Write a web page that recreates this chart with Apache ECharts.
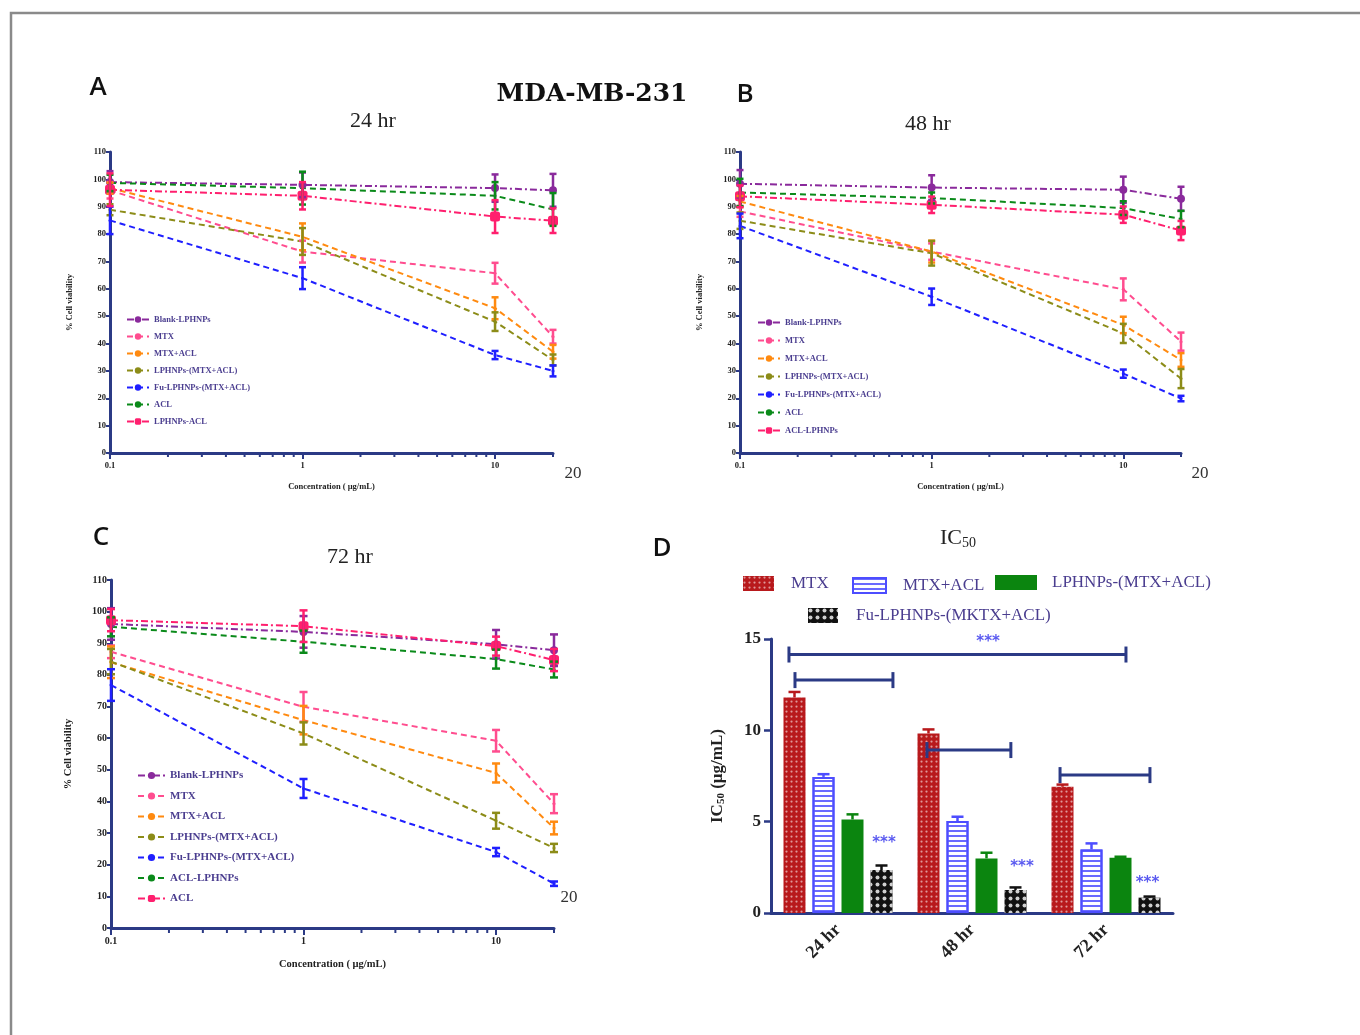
<!DOCTYPE html>
<html><head><meta charset="utf-8">
<script src="https://cdn.jsdelivr.net/npm/echarts@6/dist/echarts.min.js"></script>
<style>
html,body{margin:0;padding:0;background:#fff;}
.p{position:absolute;left:0;top:0;width:1360px;height:1035px;}
</style></head><body>
<div id="pa" class="p"></div><div id="pb" class="p"></div><div id="pc" class="p"></div><div id="pd" class="p"></div>
<script>
// ---------- DATA ----------
const conc = [0.1, 1, 10, 20];
const minorTicks = [0.2,0.3,0.4,0.5,0.6,0.7,0.8,0.9,2,3,4,5,6,7,8,9,20];

const namesA = ['Blank-LPHNPs','MTX','MTX+ACL','LPHNPs-(MTX+ACL)','Fu-LPHNPs-(MTX+ACL)','ACL','LPHNPs-ACL'];
const valsA = [
  [99, 98, 96.8, 96],
  [96, 73.6, 65.7, 42.5],
  [96.8, 79, 52.9, 37],
  [88.9, 77.3, 48, 34],
  [85, 63.9, 35.8, 30],
  [98.7, 96.8, 94, 89],
  [96.2, 94, 86.4, 84.9]
];
const errA = [
  [4, 4.5, 5, 6],
  [3, 4, 3.8, 2.5],
  [2, 4.9, 4, 2.5],
  [2, 4.9, 3.4, 2],
  [5, 4, 1.5, 2],
  [3, 6, 5, 6],
  [6, 5, 6, 4.5]
];

const namesB = ['Blank-LPHNPs','MTX','MTX+ACL','LPHNPs-(MTX+ACL)','Fu-LPHNPs-(MTX+ACL)','ACL','ACL-LPHNPs'];
const valsB = [
  [98.4, 97, 96.2, 92.9],
  [88.3, 73.6, 59.8, 40.7],
  [91.9, 73.6, 46.8, 34],
  [84.9, 73, 43.7, 27.2],
  [83, 57.1, 29, 19.9],
  [95.2, 93.2, 89.5, 85.5],
  [93.8, 90.7, 87.1, 81.3]
];
const errB = [
  [5, 4.5, 4.8, 4.4],
  [2, 3, 4, 3.3],
  [2, 4, 3, 2.5],
  [3, 4.5, 3.5, 3.5],
  [4.5, 3, 1.5, 1],
  [5, 2, 2.5, 3],
  [4, 3, 3, 3.5]
];

const namesC = ['Blank-LPHNPs','MTX','MTX+ACL','LPHNPs-(MTX+ACL)','Fu-LPHNPs-(MTX+ACL)','ACL-LPHNPs','ACL'];
const valsC = [
  [96.1, 93.6, 89.7, 87.8],
  [87.3, 69.9, 59.2, 39.3],
  [84, 65.7, 49, 31.6],
  [84.2, 61.5, 33.9, 25.3],
  [76.8, 44.1, 24, 14],
  [95.2, 90.5, 85, 81.7],
  [97.3, 95.4, 89.1, 84.7]
];
const errC = [
  [5, 5, 4.5, 5],
  [2, 4.7, 3.4, 3],
  [5, 4.5, 3, 2],
  [4, 3.5, 2.5, 1.3],
  [5, 3, 1.3, 0.7],
  [3, 3.5, 3, 2.5],
  [3.5, 5, 3, 3.5]
];

const times = ['24 hr', '48 hr', '72 hr'];
const barNames = ['MTX', 'MTX+ACL', 'LPHNPs-(MTX+ACL)', 'Fu-LPHNPs-(MKTX+ACL)'];
const icMTX = [11.8, 9.83, 6.91];
const icMTXACL = [7.45, 5.03, 3.48];
const icLPHNP = [5.12, 2.99, 3.03];
const icFu = [2.35, 1.26, 0.84];
const icErrMTX = [0.3, 0.22, 0.12];
const icErrMTXACL = [0.15, 0.24, 0.33];
const icErrLPHNP = [0.28, 0.31, 0.05];
const icErrFu = [0.25, 0.14, 0.06];
// significance brackets: [x start, x end, height] on a 0..3 group scale
const brackets = [[0.134, 2.649, 14.15], [0.179, 0.91, 12.75], [1.164, 1.79, 8.92], [2.157, 2.828, 7.55]];
const stars = [[1.62, 14.85], [0.843, 3.83], [1.873, 2.52], [2.81, 1.64]];

// ---------- STYLE ----------
const SERIF = '"Liberation Serif","DejaVu Serif",serif';
const NAVY = '#2b3a85';
const LEG_TXT = '#4a3d8f';
const C_PURPLE = '#8a2a9c', C_PINK = '#ff4d8f', C_ORANGE = '#ff8a10', C_OLIVE = '#8c8c18',
      C_BLUE = '#1f1fff', C_GREEN = '#0a8a1a', C_MAG = '#ff1f6e';

function lineStyles(order) {
  const s = {
    blank: {color: C_PURPLE, symbol: 'circle', size: 8, dash: [7, 3, 2, 3]},
    mtx: {color: C_PINK, symbol: 'circle', size: 3, dash: [6, 4]},
    mtxacl: {color: C_ORANGE, symbol: 'circle', size: 3, dash: [6, 4]},
    olive: {color: C_OLIVE, symbol: 'circle', size: 3, dash: [6, 4]},
    fu: {color: C_BLUE, symbol: 'circle', size: 3, dash: [6, 4]},
    green: {color: C_GREEN, symbol: 'circle', size: 3, dash: [6, 4]},
    mag: {color: C_MAG, symbol: 'roundRect', size: 10, dash: [7, 3, 2, 3]}
  };
  return order.map(k => s[k]);
}

function linePanel(id, cfg) {
  const chart = echarts.init(document.getElementById(id));
  const series = [];
  cfg.names.forEach((n, i) => {
    const st = cfg.styles[i];
    series.push({
      type: 'line', name: n, z: 3,
      data: conc.map((x, j) => [x, cfg.values[i][j]]),
      symbol: st.symbol, symbolSize: st.size,
      itemStyle: {color: st.color},
      lineStyle: {color: st.color, width: 2, type: st.dash},
      emphasis: {disabled: true}
    });
    series.push({
      type: 'custom', name: n + ' error', z: 4,
      data: conc.map((x, j) => [x, cfg.values[i][j] - cfg.errors[i][j], cfg.values[i][j] + cfg.errors[i][j]]),
      encode: {x: 0, y: [1, 2]},
      renderItem: (params, api) => {
        const a = api.coord([api.value(0), api.value(2)]);
        const b = api.coord([api.value(0), api.value(1)]);
        const w = cfg.cap, sty = {stroke: st.color, lineWidth: 2.5};
        return {type: 'group', children: [
          {type: 'line', shape: {x1: a[0], y1: a[1], x2: b[0], y2: b[1]}, style: sty},
          {type: 'line', shape: {x1: a[0] - w, y1: a[1], x2: a[0] + w, y2: a[1]}, style: sty},
          {type: 'line', shape: {x1: b[0] - w, y1: b[1], x2: b[0] + w, y2: b[1]}, style: sty}
        ]};
      }
    });
  });
  series.push({
    type: 'custom', name: 'minor ticks', silent: true, z: 5,
    data: minorTicks.map(v => [v, 0]),
    renderItem: (params, api) => {
      const p = api.coord([api.value(0), 0]);
      return {type: 'line', shape: {x1: p[0], y1: p[1], x2: p[0], y2: p[1] + cfg.minorLen},
              style: {stroke: NAVY, lineWidth: 2}};
    }
  });
  const axisFont = {fontSize: cfg.axisFont, fontWeight: 'bold', fontFamily: SERIF, color: '#222'};
  const graphics = [
    {type: 'text', x: cfg.title[1], y: cfg.title[2], style: {text: cfg.title[0], font: '22px ' + SERIF, fill: '#222', align: 'center', verticalAlign: 'middle', textAlign: 'center', textVerticalAlign: 'middle'}},
    {type: 'text', x: cfg.letter[1], y: cfg.letter[2], style: {text: cfg.letter[0], font: '600 26px "Open Sans",sans-serif', fill: '#111', align: 'center', verticalAlign: 'middle', textAlign: 'center', textVerticalAlign: 'middle'}},
    {type: 'text', x: cfg.twenty[0], y: cfg.twenty[1], style: {text: '20', font: '17px ' + SERIF, fill: '#333', align: 'center', verticalAlign: 'middle', textAlign: 'center', textVerticalAlign: 'middle'}}
  ].concat(cfg.extraGraphics || []);
  chart.setOption({
    animation: false,
    grid: cfg.grid,
    xAxis: {
      type: 'log', logBase: 10, min: 0.1, max: 20,
      name: 'Concentration ( µg/mL)', nameLocation: 'middle', nameGap: cfg.xNameGap,
      nameTextStyle: {fontSize: cfg.nameFont, fontWeight: 'bold', fontFamily: SERIF, color: '#222'},
      axisLine: {lineStyle: {color: NAVY, width: 3}},
      axisTick: {show: true, length: cfg.majorLen, lineStyle: {color: NAVY, width: 2}},
      minorTick: {show: false},
      axisLabel: Object.assign({margin: 8, showMaxLabel: false, formatter: v => (v > 15 ? '' : String(+v.toPrecision(3)))}, axisFont),
      splitLine: {show: false}
    },
    yAxis: {
      type: 'value', min: 0, max: 110, interval: 10,
      name: '% Cell viability', nameLocation: 'middle', nameGap: cfg.yNameGap,
      nameTextStyle: {fontSize: cfg.nameFont, fontWeight: 'bold', fontFamily: SERIF, color: '#222'},
      axisLine: {show: true, lineStyle: {color: NAVY, width: 3}},
      axisTick: {show: true, length: 4, lineStyle: {color: NAVY, width: 2}},
      axisLabel: Object.assign({margin: 4}, axisFont),
      splitLine: {show: false}
    },
    legend: {
      data: cfg.names, orient: 'vertical', left: cfg.legend.left, top: cfg.legend.top,
      itemGap: cfg.legend.gap, itemWidth: cfg.legend.w, itemHeight: cfg.legend.h,
      textStyle: {fontSize: cfg.legend.font, fontFamily: SERIF, fontWeight: 'bold', color: LEG_TXT}
    },
    graphic: graphics,
    series: series
  });
}

linePanel('pa', {
  names: namesA, values: valsA, errors: errA,
  styles: lineStyles(['blank', 'mtx', 'mtxacl', 'olive', 'fu', 'green', 'mag']),
  grid: {left: 110, top: 152, width: 443, height: 301},
  legend: {left: 121, top: 310, gap: 8, w: 22, h: 8, font: 8.5},
  axisFont: 8.5, nameFont: 8.5, cap: 3.5, xNameGap: 29, yNameGap: 36, majorLen: 6, minorLen: 4,
  title: ['24 hr', 373, 121], letter: ['A', 98, 88], twenty: [573, 474],
  extraGraphics: [
    {type: 'text', x: 592, y: 94, style: {text: 'MDA-MB-231', font: 'bold 25px "DejaVu Serif",serif', fill: '#111', align: 'center', verticalAlign: 'middle', textAlign: 'center', textVerticalAlign: 'middle'}},
    {type: 'polyline', shape: {points: [[11, 1040], [11, 13], [1370, 13]]}, style: {stroke: '#8a8a8a', lineWidth: 2.5, fill: null}}
  ]
});
linePanel('pb', {
  names: namesB, values: valsB, errors: errB,
  styles: lineStyles(['blank', 'mtx', 'mtxacl', 'olive', 'fu', 'green', 'mag']),
  grid: {left: 740, top: 152, width: 441, height: 301},
  legend: {left: 752, top: 313, gap: 9, w: 22, h: 8, font: 8.5},
  axisFont: 8.5, nameFont: 8.5, cap: 3.5, xNameGap: 29, yNameGap: 36, majorLen: 6, minorLen: 4,
  title: ['48 hr', 928, 124], letter: ['B', 745, 95], twenty: [1200, 474]
});
linePanel('pc', {
  names: namesC, values: valsC, errors: errC,
  styles: lineStyles(['blank', 'mtx', 'mtxacl', 'olive', 'fu', 'green', 'mag']),
  grid: {left: 111, top: 580, width: 443, height: 348},
  legend: {left: 132, top: 765, gap: 9.5, w: 27, h: 9, font: 11},
  axisFont: 10, nameFont: 10.5, cap: 4, xNameGap: 31, yNameGap: 37, majorLen: 7, minorLen: 5,
  title: ['72 hr', 350, 557], letter: ['C', 101, 538], twenty: [569, 898]
});

// ---------- PANEL D ----------
(function () {
  const chart = echarts.init(document.getElementById('pd'));
  const BW = 22, GAP = 7;
  const barDefs = [
    {name: barNames[0], data: icMTX, err: icErrMTX, color: '#b8191c', itemStyle: {color: '#b8191c', decal: {symbol: 'circle', symbolSize: 0.75, color: 'rgba(255,255,255,0.55)', dashArrayX: [3, 2], dashArrayY: [3, 2]}}},
    {name: barNames[1], data: icMTXACL, err: icErrMTXACL, color: '#4d4dff', itemStyle: {color: '#ffffff', borderColor: '#4d4dff', borderWidth: 2, decal: {symbol: 'rect', symbolSize: 1, color: '#6a6aff', dashArrayX: [1, 0], dashArrayY: [2, 3]}}},
    {name: barNames[2], data: icLPHNP, err: icErrLPHNP, color: '#0b850f', itemStyle: {color: '#0b850f'}},
    {name: barNames[3], data: icFu, err: icErrFu, color: '#111111', itemStyle: {color: '#111111', decal: {symbol: 'circle', symbolSize: 0.8, color: 'rgba(255,255,255,0.8)', dashArrayX: [5, 2], dashArrayY: [5, 2]}}}
  ];
  const series = [];
  barDefs.forEach((b, i) => {
    series.push({type: 'bar', name: b.name, data: b.data, barWidth: BW, barGap: (GAP / BW * 100) + '%', itemStyle: b.itemStyle, z: 2});
    series.push({
      type: 'custom', name: b.name + ' error', z: 3,
      data: b.data.map((v, j) => [j, v, v + b.err[j]]),
      encode: {x: 0, y: [1, 2]},
      renderItem: (params, api) => {
        const t = api.coord([api.value(0), api.value(2)]);
        const base = api.coord([api.value(0), api.value(1)]);
        const x = t[0] + (i - 1.5) * (BW + GAP);
        const sty = {stroke: b.color, lineWidth: 2.5};
        return {type: 'group', children: [
          {type: 'line', shape: {x1: x, y1: base[1], x2: x, y2: t[1]}, style: sty},
          {type: 'line', shape: {x1: x - 6, y1: t[1], x2: x + 6, y2: t[1]}, style: sty}
        ]};
      }
    });
  });
  series.push({
    type: 'custom', name: 'brackets', xAxisIndex: 1, z: 6, silent: true,
    data: brackets, encode: {x: [0, 1], y: 2},
    renderItem: (params, api) => {
      const a = api.coord([api.value(0), api.value(2)]);
      const b = api.coord([api.value(1), api.value(2)]);
      const sty = {stroke: NAVY, lineWidth: 3};
      return {type: 'group', children: [
        {type: 'line', shape: {x1: a[0], y1: a[1], x2: b[0], y2: b[1]}, style: sty},
        {type: 'line', shape: {x1: a[0], y1: a[1] - 8, x2: a[0], y2: a[1] + 8}, style: sty},
        {type: 'line', shape: {x1: b[0], y1: b[1] - 8, x2: b[0], y2: b[1] + 8}, style: sty}
      ]};
    }
  });
  series.push({
    type: 'custom', name: 'stars', xAxisIndex: 1, z: 6, silent: true,
    data: stars, encode: {x: 0, y: 1},
    renderItem: (params, api) => {
      const p = api.coord([api.value(0), api.value(1)]);
      return {type: 'text', x: p[0], y: p[1], style: {text: '***', font: 'bold 15px "DejaVu Sans",sans-serif', fill: '#5a5af0', align: 'center', verticalAlign: 'middle', textAlign: 'center', textVerticalAlign: 'middle'}};
    }
  });
  const legTxt = {fontSize: 17, fontFamily: SERIF, color: LEG_TXT};
  const mkLegend = (name, left, top, w, pad) => ({
    data: [name], left: left, top: top, itemWidth: w, itemHeight: 15, icon: 'rect',
    textStyle: Object.assign({padding: [0, 0, 0, pad]}, legTxt)
  });
  chart.setOption({
    animation: false,
    grid: {left: 771, top: 639, width: 402, height: 274},
    xAxis: [{
      type: 'category', data: times,
      axisLine: {lineStyle: {color: NAVY, width: 3}},
      axisTick: {alignWithLabel: true, length: 7, lineStyle: {color: NAVY, width: 2.5}},
      axisLabel: {rotate: 45, fontSize: 18, fontWeight: 'bold', fontFamily: SERIF, color: '#222', margin: 14}
    }, {type: 'value', min: 0, max: 3, show: false}],
    yAxis: {
      type: 'value', min: 0, max: 15, interval: 5,
      name: '{a|IC}{s|50}{a| (µg/mL)}', nameLocation: 'middle', nameGap: 44,
      nameTextStyle: {rich: {a: {fontSize: 17, fontWeight: 'bold', fontFamily: SERIF, color: '#222'}, s: {fontSize: 11, fontWeight: 'bold', fontFamily: SERIF, color: '#222', padding: [8, 0, 0, 0]}}},
      axisLine: {show: true, lineStyle: {color: NAVY, width: 3}},
      axisTick: {show: true, length: 7, lineStyle: {color: NAVY, width: 2.5}},
      axisLabel: {fontSize: 17, fontWeight: 'bold', fontFamily: SERIF, color: '#222', margin: 10},
      splitLine: {show: false}
    },
    legend: [
      mkLegend(barNames[0], 738, 570, 31, 12),
      mkLegend(barNames[1], 847, 572, 33, 12),
      mkLegend(barNames[2], 990, 569, 42, 10),
      mkLegend(barNames[3], 803, 602, 30, 13)
    ],
    graphic: [
      {type: 'text', x: 958, y: 538, style: {rich: {a: {font: '22px ' + SERIF, fill: '#222'}, s: {font: '14px ' + SERIF, fill: '#222', padding: [10, 0, 0, 0]}}, text: '{a|IC}{s|50}', align: 'center', verticalAlign: 'middle', textAlign: 'center', textVerticalAlign: 'middle'}},
      {type: 'text', x: 662, y: 549, style: {text: 'D', font: '600 26px "Open Sans",sans-serif', fill: '#111', align: 'center', verticalAlign: 'middle', textAlign: 'center', textVerticalAlign: 'middle'}}
    ],
    series: series
  });
})();
</script></body></html>
